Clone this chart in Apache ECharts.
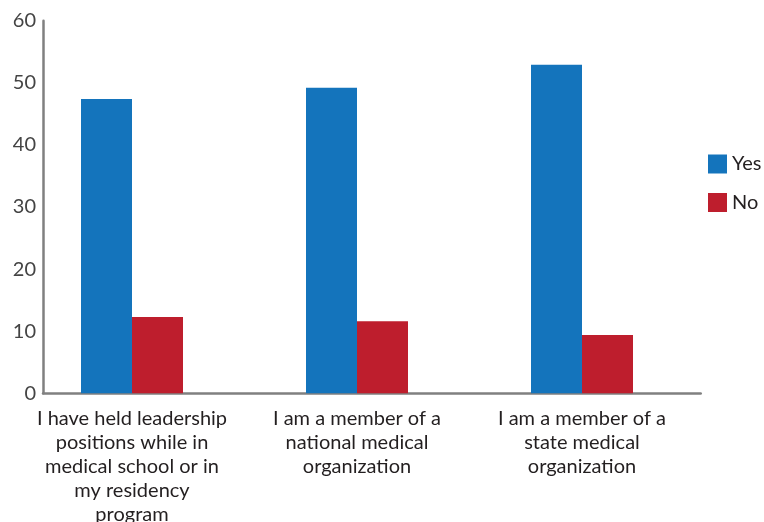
<!DOCTYPE html>
<html>
<head>
<meta charset="utf-8">
<script src="https://cdn.jsdelivr.net/npm/echarts@6/dist/echarts.min.js"></script>
<style>html,body{margin:0;padding:0;background:#fff;}#c{width:764px;height:522px;}</style>
</head>
<body>
<div id="c"></div>
<script>
const categories = [
  "I have held leadership\npositions while in\nmedical school or in\nmy residency\nprogram",
  "I am a member of a\nnational medical\norganization",
  "I am a member of a\nstate medical\norganization"
];
const yesValues = [47.4, 49.2, 52.9];
const noValues = [12.3, 11.6, 9.4];
const seriesNames = ["Yes", "No"];
const yMin = 0, yMax = 60, yInterval = 10;

const chart = echarts.init(document.getElementById('c'), null, {renderer: 'canvas'});
const font = 'Lato, "Noto Sans", sans-serif';
chart.setOption({
  animation: false,
  backgroundColor: '#ffffff',
  grid: [
    {left: 19.5, width: 675, top: 20.7, bottom: 128.7, containLabel: false, outerBoundsMode: 'none'},
    {left: 43, right: 63.3, top: 20.7, bottom: 128.7, containLabel: false, outerBoundsMode: 'none'}
  ],
  legend: {
    orient: 'vertical',
    left: 708,
    top: 154,
    padding: 0,
    itemWidth: 19,
    itemHeight: 19,
    itemGap: 18.5,
    icon: 'rect',
    data: seriesNames,
    textStyle: {fontFamily: font, fontSize: 20, color: '#231f20', padding: [0, 0, 0, 0]}
  },
  xAxis: [
    {
      type: 'category', gridIndex: 0, data: categories,
      axisLine: {show: false}, axisTick: {show: false},
      axisLabel: {fontFamily: font, fontSize: 20, color: '#231f20', lineHeight: 24, margin: 13, interval: 0}
    },
    {
      type: 'value', gridIndex: 1, min: 0, max: 1,
      axisLine: {show: true, onZero: false, lineStyle: {color: '#808080', width: 2.5}},
      axisTick: {show: false}, axisLabel: {show: false}, splitLine: {show: false}
    }
  ],
  yAxis: [
    {
      type: 'value', gridIndex: 0, min: yMin, max: yMax, interval: yInterval,
      axisLine: {show: false}, axisTick: {show: false}, axisLabel: {show: false}, splitLine: {show: false}
    },
    {
      type: 'value', gridIndex: 1, min: yMin, max: yMax, interval: yInterval,
      axisLine: {show: true, lineStyle: {color: '#808080', width: 2.5}},
      axisTick: {show: false}, splitLine: {show: false},
      axisLabel: {fontFamily: font, fontSize: 20, color: '#444444', margin: 7}
    }
  ],
  series: [
    {name: seriesNames[0], type: 'bar', xAxisIndex: 0, yAxisIndex: 0, data: yesValues, barWidth: 51, barGap: '0%', itemStyle: {color: '#1474bc'}},
    {name: seriesNames[1], type: 'bar', xAxisIndex: 0, yAxisIndex: 0, data: noValues, barWidth: 51, barGap: '0%', itemStyle: {color: '#be1e2d'}}
  ]
});
</script>
</body>
</html>
